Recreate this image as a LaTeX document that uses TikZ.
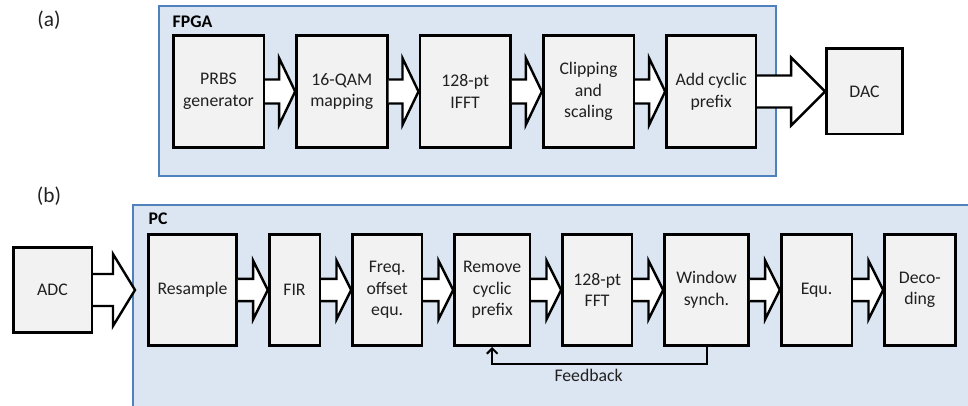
\documentclass[tikz,border=0pt]{standalone}
\usepackage{fontspec}
\setmainfont{Carlito}
\usetikzlibrary{positioning,calc,arrows.meta}

\definecolor{boxfill}{HTML}{DCE6F2}
\definecolor{boxline}{HTML}{4F81BD}
\definecolor{blockfill}{HTML}{F2F2F2}
\definecolor{txt}{HTML}{202020}

% fat white arrow from #1 to the tip #2 (shaft half, head half, head length)
\newcommand{\fatarrow}[5]{%
  \filldraw[fat] let \p1=(#1), \p2=(#2) in
    (\x1,\y1+#3) -- (\x2-#5,\y1+#3) -- (\x2-#5,\y1+#4) -- (\x2,\y1)
    -- (\x2-#5,\y1-#4) -- (\x2-#5,\y1-#3) -- (\x1,\y1-#3);}

\begin{document}
\begin{tikzpicture}[x=0.75pt,y=-0.75pt,node distance=22.5pt,
    >={Straight Barb[length=4pt,width=8pt]},
    every node/.style={font=\fontsize{13.3}{16.2}\selectfont,text=txt},
    block/.style={draw,line width=2pt,fill=blockfill,align=center,
                  minimum height=84pt,inner sep=1pt},
    fat/.style={fill=white,draw,line width=1.8pt,line join=miter},
    group/.style={draw=boxline,line width=1.5pt,fill=boxfill}]

  \useasboundingbox (0,0) rectangle (968,406);
  \clip (0,0) rectangle (968,406);

  % frames
  \draw[group] (159,6) rectangle (776,176);
  \draw[group] (133,205) rectangle (990,430);

  \node[font=\fontsize{13.3}{16}\selectfont\bfseries,text=black,anchor=west] (fpga) at (168,22) {FPGA};
  \node[font=\fontsize{13.3}{16}\selectfont\bfseries,text=black,anchor=west] (pc) at (144,219) {PC};
  \node[font=\fontsize{16}{19}\selectfont] (lbla) at (49,20) {(a)};
  \node[font=\fontsize{16}{19}\selectfont] (lblb) at (49,196) {(b)};

  % (a) transmitter
  \node[block,minimum width=68pt] (prbs) at (218.5,91.5) {PRBS\\generator};
  \node[block,minimum width=68pt,right=of prbs] (qam) {16-QAM\\mapping};
  \node[block,minimum width=68pt,right=of qam] (ifft) {128-pt\\IFFT};
  \node[block,minimum width=68pt,right=of ifft] (clip) {Clipping\\and\\scaling};
  \node[block,minimum width=67pt,right=of clip] (cp) {Add cyclic\\prefix};
  \node[block,minimum width=57pt,minimum height=64pt,right=51pt of cp] (dac) {DAC};

  % (b) receiver
  \node[block,minimum width=66pt,minimum height=83.5pt] (res) at (192.5,290) {Resample};
  \node[block,minimum width=59pt,minimum height=64pt,left=40.5pt of res] (adc) {ADC};
  \node[block,minimum width=38pt,minimum height=83.5pt,right=of res] (fir) {FIR};
  \node[block,minimum width=52pt,minimum height=83.5pt,right=of fir] (freq) {Freq.\\offset\\equ.};
  \node[block,minimum width=56.5pt,minimum height=83.5pt,right=of freq] (rem) {Remove\\cyclic\\prefix};
  \node[block,minimum width=52pt,minimum height=83.5pt,right=of rem] (fft) {128-pt\\FFT};
  \node[block,minimum width=63pt,minimum height=83.5pt,right=of fft] (win) {Window\\synch.};
  \node[block,minimum width=53pt,minimum height=83.5pt,right=of win] (equ) {Equ.};
  \node[block,minimum width=53pt,minimum height=83.5pt,right=of equ] (dec) {Deco-\\ding};
  \coordinate (pcin) at (135,290);

  \foreach \a/\b in {prbs/qam,qam/ifft,ifft/clip,clip/cp}
    {\fatarrow{\a.east}{\b.west}{9pt}{25pt}{12pt}}
  \fatarrow{cp.east}{dac.west}{12pt}{25.5pt}{25.5pt}

  \fatarrow{adc.east}{pcin}{12pt}{27pt}{16.5pt}
  \foreach \a/\b in {res/fir,fir/freq,freq/rem,rem/fft,fft/win,win/equ,equ/dec}
    {\fatarrow{\a.east}{\b.west}{8.3pt}{22pt}{11pt}}

  \draw[->,line width=1.5pt] (win.south) -- ++(0,17) -| (rem.south)
    node[pos=0.275,below] {Feedback};
\end{tikzpicture}
\end{document}
